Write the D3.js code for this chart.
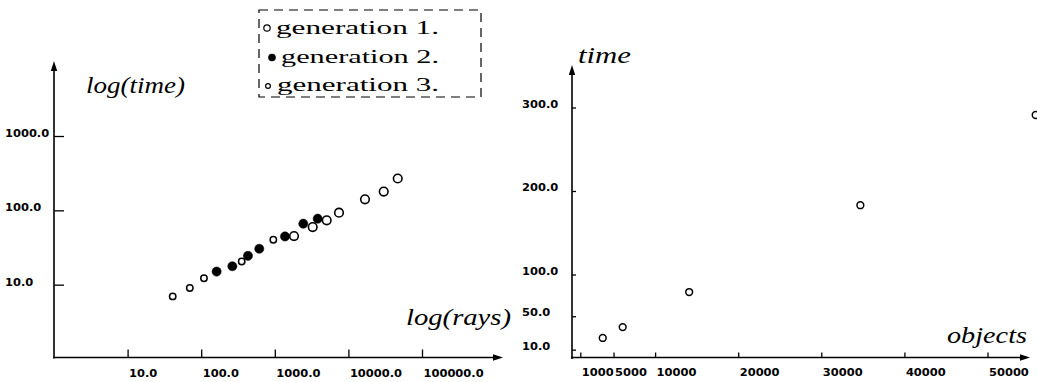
<!DOCTYPE html>
<html><head><meta charset="utf-8">
<script src="https://cdn.jsdelivr.net/npm/d3@7"></script>
<style>
html,body{margin:0;padding:0;background:#fff;}
svg{display:block;}
</style></head><body>
<svg id="chart" width="1037" height="382"></svg>
<script>
// Rendering time against number of rays, three generations (log-log)
const gen1Rays = [1824, 3273, 5070, 7450, 16800, 30200, 46800];
const gen1Time = [45.0, 59.5, 73.3, 93.1, 140.8, 179, 268];
const gen2Rays = [162, 265, 432, 615, 1376, 2440, 3828];
const gen2Time = [15.0, 17.7, 24.4, 30.4, 44.5, 66.1, 77.2];
const gen3Rays = [41, 70, 109, 355, 955];
const gen3Time = [6.95, 9.0, 12.2, 20.5, 40.2];
const rayTicks = [10, 100, 1000, 10000, 100000];
const logTimeTicks = [10, 100, 1000];
const legendLabels = ["generation 1.", "generation 2.", "generation 3."];

// Rendering time against number of objects (linear)
const objectCounts = [3700, 6100, 14100, 34700, 55800];
const objectTime = [24, 37, 79, 183, 291];
const objectTicks = [1000, 5000, 10000, 20000, 30000, 40000, 50000];
const timeTicks = [10, 50, 100, 200, 300];

const svg = d3.select("#chart");
const INK = "#000";
const tickFont = {family: "'DejaVu Sans', sans-serif", size: "10.5px", weight: "bold"};

// widen a text element horizontally (the typeset look of the plots)
function widen(sel, factor, target) {
  sel.each(function () {
    const w = target || this.getComputedTextLength() * factor;
    d3.select(this).attr("textLength", w).attr("lengthAdjust", "spacingAndGlyphs");
  });
}

function arrowUp(x, y) {
  svg.append("path").attr("d", `M${x},${y} L${x - 3.2},${y + 10} L${x + 3.2},${y + 10} Z`).attr("fill", INK);
}
function arrowRight(x, y) {
  svg.append("path").attr("d", `M${x},${y} L${x - 10},${y - 3.2} L${x - 10},${y + 3.2} Z`).attr("fill", INK);
}

function styleTicks(g) {
  g.select(".domain").remove();
  g.selectAll(".tick line").attr("stroke", INK).attr("stroke-width", 1.3);
  g.selectAll(".tick text")
    .attr("fill", INK)
    .style("font-family", tickFont.family)
    .style("font-size", tickFont.size)
    .style("font-weight", tickFont.weight);
}

function title(text, x, y, width) {
  svg.append("text").attr("x", x).attr("y", y).text(text)
    .attr("fill", INK)
    .style("font-family", "'Liberation Serif', serif")
    .style("font-style", "italic")
    .style("font-size", "23px")
    .call(widen, 1, width);
}

/* ---------- left panel: log(time) vs log(rays) ---------- */
const lx = d3.scaleLog().domain([1, 100000]).range([54, 422]);
const ly = d3.scaleLog().domain([1, 1000]).range([359, 136]);

const lxAxis = svg.append("g").attr("transform", "translate(0,357.5)")
  .call(d3.axisBottom(lx).tickValues(rayTicks).tickSizeInner(-8).tickSizeOuter(0).tickFormat(d3.format(".1f")));
styleTicks(lxAxis);
lxAxis.selectAll(".tick text").attr("text-anchor", "start").attr("x", 1).attr("y", 19.5).attr("dy", null).call(widen, 1.09);

const lyAxis = svg.append("g").attr("transform", "translate(54,0)")
  .call(d3.axisLeft(ly).tickValues(logTimeTicks).tickSizeInner(-10).tickSizeOuter(0).tickFormat(d3.format(".1f")));
styleTicks(lyAxis);
lyAxis.selectAll(".tick text").attr("text-anchor", "start").attr("x", 5 - 54).attr("y", 0.5).attr("dy", null).call(widen, 1.09);

svg.append("line").attr("x1", 54).attr("x2", 54).attr("y1", 358.5).attr("y2", 68).attr("stroke", INK).attr("stroke-width", 1.6);
svg.append("line").attr("x1", 53).attr("x2", 496).attr("y1", 357.5).attr("y2", 357.5).attr("stroke", INK).attr("stroke-width", 1.6);
arrowUp(54, 61);
arrowRight(503, 357.5);

title("log(time)", 86, 93, 99);
title("log(rays)", 406, 325, 105);

const pts = (xs, ys) => xs.map((x, i) => ({x, y: ys[i]}));

svg.append("g").selectAll("circle").data(pts(gen3Rays, gen3Time)).join("circle")
  .attr("cx", d => lx(d.x)).attr("cy", d => ly(d.y)).attr("r", 3.2)
  .attr("fill", "#fff").attr("stroke", INK).attr("stroke-width", 1.5);
svg.append("g").selectAll("circle").data(pts(gen2Rays, gen2Time)).join("circle")
  .attr("cx", d => lx(d.x)).attr("cy", d => ly(d.y)).attr("r", 4.6)
  .attr("fill", INK).attr("stroke", INK).attr("stroke-width", 0.5);
svg.append("g").selectAll("circle").data(pts(gen1Rays, gen1Time)).join("circle")
  .attr("cx", d => lx(d.x)).attr("cy", d => ly(d.y)).attr("r", 4.3)
  .attr("fill", "none").attr("stroke", INK).attr("stroke-width", 1.6);

/* legend */
svg.append("rect").attr("x", 259).attr("y", 10).attr("width", 222).attr("height", 87)
  .attr("fill", "none").attr("stroke", INK).attr("stroke-width", 1.2).attr("stroke-dasharray", "9,6");
const legendRows = [
  {y: 34, mx: 267, my: 28, r: 3.2, fill: "none", tx: 276, w: 163},
  {y: 63, mx: 272, my: 57.5, r: 3.2, fill: INK, tx: 281, w: 158},
  {y: 91, mx: 268, my: 86, r: 2.4, fill: "none", tx: 277, w: 162}
];
legendRows.forEach((row, i) => {
  svg.append("circle").attr("cx", row.mx).attr("cy", row.my).attr("r", row.r)
    .attr("fill", row.fill).attr("stroke", INK).attr("stroke-width", 1.2);
  svg.append("text").attr("x", row.tx).attr("y", row.y).text(legendLabels[i])
    .attr("fill", INK)
    .style("font-family", "'Liberation Serif', serif")
    .style("font-size", "19px")
    .call(widen, 1, row.w);
});

/* ---------- right panel: time vs objects ---------- */
const rx = d3.scaleLinear().domain([0, 50000]).range([572, 987.5]);
const ry = d3.scaleLinear().domain([0, 300]).range([358, 107.5]);

const rxAxis = svg.append("g").attr("transform", "translate(0,357.5)")
  .call(d3.axisBottom(rx).tickValues(objectTicks).tickSizeInner(-5).tickSizeOuter(0).tickFormat(d3.format("d")));
styleTicks(rxAxis);
rxAxis.selectAll(".tick text").attr("text-anchor", "start").attr("x", 1).attr("y", 18).attr("dy", null).call(widen, 1.09);

const ryAxis = svg.append("g").attr("transform", "translate(572,0)")
  .call(d3.axisLeft(ry).tickValues(timeTicks).tickSizeInner(-4).tickSizeOuter(0).tickFormat(d3.format(".1f")));
styleTicks(ryAxis);
ryAxis.selectAll(".tick text").attr("text-anchor", "start").attr("x", 522 - 572).attr("y", -0.5).attr("dy", null).call(widen, 1.09);

svg.append("line").attr("x1", 572).attr("x2", 572).attr("y1", 359).attr("y2", 72).attr("stroke", INK).attr("stroke-width", 1.6);
svg.append("line").attr("x1", 571).attr("x2", 1022).attr("y1", 357.5).attr("y2", 357.5).attr("stroke", INK).attr("stroke-width", 1.6);
arrowUp(572, 65);
arrowRight(1030, 357.5);

title("time", 578, 63, 53);
title("objects", 947, 343, 80);

svg.append("g").selectAll("circle").data(pts(objectCounts, objectTime)).join("circle")
  .attr("cx", d => rx(d.x)).attr("cy", d => ry(d.y)).attr("r", 3.4)
  .attr("fill", "none").attr("stroke", INK).attr("stroke-width", 1.5);
</script>
</body></html>
